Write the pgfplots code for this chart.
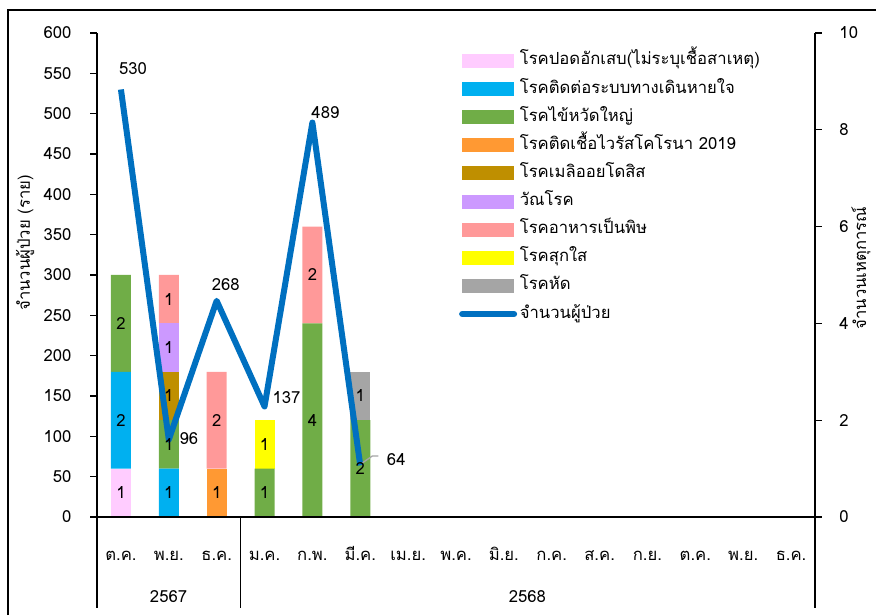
\documentclass[border=0pt]{standalone}
\usepackage{pgfplots}
\pgfplotsset{compat=1.18}
\usepackage{fontspec}
\setmainfont[Script=Thai]{Loma}

\definecolor{pinkc}{HTML}{FFCCFF}
\definecolor{bluec}{HTML}{00B0F0}
\definecolor{greenc}{HTML}{70AD47}
\definecolor{orangec}{HTML}{FF9933}
\definecolor{brownc}{HTML}{BF8F00}
\definecolor{purplec}{HTML}{CC99FF}
\definecolor{salmonc}{HTML}{FF9999}
\definecolor{yellowc}{HTML}{FFFF00}
\definecolor{grayc}{HTML}{A5A5A5}
\definecolor{linec}{HTML}{0070C0}

\newcommand{\fs}{\fontsize{12.5}{15}\selectfont}

\pgfplotsset{
  barleg/.style={legend image code/.code={\fill (0pt,-5.25pt) rectangle (39pt,5.25pt);}},
  lineleg/.style={legend image code/.code={\draw[line cap=round] (0pt,0pt) -- (39pt,0pt);}},
  base/.style={
    at={(72.75pt,73.5pt)}, anchor=south west,
    scale only axis, width=538.5pt, height=363pt,
    xmin=-0.5, xmax=14.5,
    axis line style={-, line width=1pt},
    tick align=outside, major tick length=5pt,
    tick style={black, line width=1pt},
    /pgf/number format/assume math mode=true,
    tick label style={font=\fs},
  },
}

\begin{document}
\fs
\begin{tikzpicture}
\useasboundingbox (0,0) rectangle (657pt,461.25pt);
\draw[line width=1pt] (6pt,0pt) -- (6pt,453.75pt) -- (657pt,453.75pt);

% events per month (right axis)
\begin{axis}[base,
  ymin=0, ymax=10,
  axis x line=none,
  axis y line*=right,
  ytick={0,2,...,10},
  yticklabel style={xshift=9pt},
  ybar stacked, bar width=15pt,
]
\addplot[fill=pinkc, draw=none]   coordinates {(0,1) (1,0) (2,0) (3,0) (4,0) (5,0)};
\addplot[fill=bluec, draw=none]   coordinates {(0,2) (1,1) (2,0) (3,0) (4,0) (5,0)};
\addplot[fill=greenc, draw=none]  coordinates {(0,2) (1,1) (2,0) (3,1) (4,4) (5,2)};
\addplot[fill=orangec, draw=none] coordinates {(0,0) (1,0) (2,1) (3,0) (4,0) (5,0)};
\addplot[fill=brownc, draw=none]  coordinates {(0,0) (1,1) (2,0) (3,0) (4,0) (5,0)};
\addplot[fill=purplec, draw=none] coordinates {(0,0) (1,1) (2,0) (3,0) (4,0) (5,0)};
\addplot[fill=salmonc, draw=none] coordinates {(0,0) (1,1) (2,2) (3,0) (4,2) (5,0)};
\addplot[fill=yellowc, draw=none] coordinates {(0,0) (1,0) (2,0) (3,1) (4,0) (5,0)};
\addplot[fill=grayc, draw=none]   coordinates {(0,0) (1,0) (2,0) (3,0) (4,0) (5,1)};
\end{axis}

% patients (left axis)
\begin{axis}[base,
  ymin=0, ymax=600,
  axis y line*=left, axis x line*=bottom,
  ytick={0,50,...,600},
  yticklabel style={xshift=-9.75pt},
  xtick={0,...,14},
  xticklabels={ต.ค., พ.ย., ธ.ค., ม.ค., ก.พ., มี.ค., เม.ย., พ.ค., มิ.ย., ก.ค., ส.ค., ก.ย., ต.ค., พ.ย., ธ.ค.},
  xtick style={draw=none},
  xticklabel style={anchor=center, yshift=-24.75pt, text height=8pt, text depth=2pt},
  legend style={at={(0.504,0.965)}, anchor=north west, draw=none, fill=none,
    row sep=5.1pt, inner sep=0pt,
    nodes={inner sep=2pt, text height=9pt, text depth=3pt, font=\fs}},
  legend cell align=left,
]
\addlegendimage{barleg, fill=pinkc, draw=none}   \addlegendentry{โรคปอดอักเสบ(ไม่ระบุเชื้อสาเหตุ)}
\addlegendimage{barleg, fill=bluec, draw=none}   \addlegendentry{โรคติดต่อระบบทางเดินหายใจ}
\addlegendimage{barleg, fill=greenc, draw=none}  \addlegendentry{โรคไข้หวัดใหญ่}
\addlegendimage{barleg, fill=orangec, draw=none} \addlegendentry{โรคติดเชื้อไวรัสโคโรนา 2019}
\addlegendimage{barleg, fill=brownc, draw=none}  \addlegendentry{โรคเมลิออยโดสิส}
\addlegendimage{barleg, fill=purplec, draw=none} \addlegendentry{วัณโรค}
\addlegendimage{barleg, fill=salmonc, draw=none} \addlegendentry{โรคอาหารเป็นพิษ}
\addlegendimage{barleg, fill=yellowc, draw=none} \addlegendentry{โรคสุกใส}
\addlegendimage{barleg, fill=grayc, draw=none}   \addlegendentry{โรคหัด}

\addplot[lineleg, color=linec, line width=4.5pt, line join=round, mark=none]
  coordinates {(0,530) (1,96) (2,268) (3,137) (4,489) (5,64)};
\addlegendentry{จำนวนผู้ป่วย}

% value labels of the line
\addplot[forget plot, draw=none, mark=none, nodes near coords, point meta=explicit symbolic,
  visualization depends on={\thisrow{dx} \as \lblx},
  visualization depends on={\thisrow{dy} \as \lbly},
  every node near coord/.append style={anchor=center, xshift=\lblx pt, yshift=\lbly pt, font=\fs}]
  table[meta=lab] {
x y lab dx dy
0 530 530 9 15.75
1 96 96 15 1
2 268 268 6.75 12
3 137 137 16.5 7
4 489 489 9.75 7.5
5 64 64 27 4
};
\draw[grayc, line width=1pt] (axis cs:5,64) ++(1.5pt,1.8pt) -- ++(7.5pt,5.2pt) -- ++(4.5pt,0pt);

% counts inside the bar segments (segment middles, 60 patients = 1 event)
\addplot[forget plot, draw=none, mark=none, nodes near coords, point meta=explicit symbolic,
  every node near coord/.append style={anchor=center, font=\fs}]
  coordinates {
    (0,30)[1] (0,120)[2] (0,240)[2]
    (1,30)[1] (1,90)[1] (1,150)[1] (1,210)[1] (1,270)[1]
    (2,30)[1] (2,120)[2]
    (3,30)[1] (3,90)[1]
    (4,120)[4] (4,300)[2]
    (5,60)[2] (5,150)[1]
  };
\end{axis}

% group dividers and years
\draw[line width=1pt] (72.75pt,73.5pt) -- (72.75pt,5.25pt);
\draw[line width=1pt] (180.45pt,73.5pt) -- (180.45pt,5.25pt);
\draw[line width=1pt] (611.25pt,73.5pt) -- (611.25pt,5.25pt);
\node at (126.4pt,13.5pt) {2567};
\node at (395.6pt,13.5pt) {2568};

% axis titles
\node[rotate=90] at (18.75pt,279pt) {จำนวนผู้ป่วย (ราย)};
\node[rotate=90] at (645.75pt,260.25pt) {จำนวนเหตุการณ์};
\end{tikzpicture}
\end{document}
